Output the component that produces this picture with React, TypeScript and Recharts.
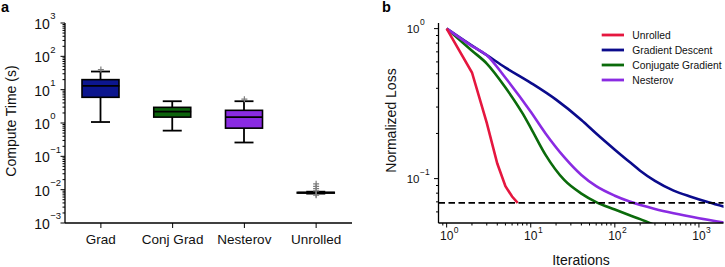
import React from 'react';
import {
  ComposedChart,
  Bar,
  Scatter,
  Line,
  XAxis,
  YAxis,
  ReferenceLine,
  Legend,
  Label,
} from 'recharts';

const FONT = '"Liberation Sans", Arial, Helvetica, sans-serif';
const INK = '#000000';
const TEXT = '#111111';

// ---------- panel a: compute time per solver (seconds) ----------
const methods = ['Grad', 'Conj Grad', 'Nesterov', 'Unrolled'];
const boxFills = ['#0c168e', '#0c640c', '#8a2be2', '#000000'];
const whiskerLow = [1.07, 0.59, 0.26, 0.0076];
const quartileLow = [5.9, 1.5, 0.7, 0.0079];
const medians = [13, 2.2, 1.5, 0.0081];
const quartileHigh = [20, 2.95, 2.4, 0.0083];
const whiskerHigh = [35, 4.5, 4.5, 0.0087];
const outliers = [[40], [], [5.2], [0.015, 0.0125, 0.0108, 0.0092, 0.0071, 0.0068]];
const timeDomain = [0.001, 1000];
const timeDecades = [0.001, 0.01, 0.1, 1, 10, 100, 1000];

// ---------- panel b: normalized loss vs iterations ----------
const unrolledIters = [1, 2, 3, 4, 5, 6, 7];
const unrolledLoss = [1, 0.51, 0.235, 0.126, 0.089, 0.076, 0.069];
const gdIters = [1, 2, 3, 5, 10, 20, 40, 60, 100, 150, 200, 300, 500, 800, 1300, 2000];
const gdLoss = [1, 0.77, 0.665, 0.55, 0.435, 0.336, 0.246, 0.2, 0.156, 0.129, 0.113, 0.0966, 0.0832, 0.0757, 0.0695, 0.0649];
const cgIters = [1, 2, 3, 5, 8, 10, 15, 25, 40, 60, 100, 150, 200, 300];
const cgLoss = [1, 0.712, 0.585, 0.405, 0.272, 0.218, 0.144, 0.098, 0.0795, 0.0698, 0.0622, 0.057, 0.0537, 0.049];
const nesterovIters = [1, 2, 3, 5, 10, 15, 25, 40, 60, 100, 150, 300, 500, 1000, 2000];
const nesterovLoss = [1, 0.765, 0.665, 0.47, 0.279, 0.2, 0.139, 0.1057, 0.089, 0.0769, 0.0703, 0.0628, 0.0588, 0.0545, 0.051];
const targetLoss = 0.069;
const iterDomain = [0.8, 1960];
const lossDomain = [0.0506, 1.09];
const iterDecades = [1, 10, 100, 1000];
const lossDecades = [0.1, 1];

const RED = '#e5173f';
const NAVY = '#0b0b8c';
const GREEN = '#0b6b0b';
const PURPLE = '#8a2be2';

const minorSteps = [2, 3, 4, 5, 6, 7, 8, 9];

// log-axis ticks: each decade plus its 2..9 minor marks, kept inside [lo, hi]
const logTicks = (decades: number[], lo: number, hi: number) => {
  const out: number[] = [];
  const first = decades[0] / 10;
  [first, ...decades].forEach((d) => {
    out.push(d);
    minorSteps.forEach((m) => out.push(m * d));
  });
  return out.filter((v) => v >= lo - 1e-12 && v <= hi + 1e-12).sort((a, b) => a - b);
};

const timeTicks = logTicks(timeDecades, timeDomain[0], timeDomain[1]);
const iterTicks = logTicks(iterDecades, 0.85, iterDomain[1]);
const lossTicks = logTicks(lossDecades, lossDomain[0], lossDomain[1]);

const isDecade = (v: number) => Math.abs(Math.log10(v) - Math.round(Math.log10(v))) < 1e-9;
const expText = (v: number) => {
  const e = Math.round(Math.log10(v));
  return e < 0 ? `\u2212${-e}` : `${e}`;
};

const outlierSlots = Array.from({ length: Math.max(...outliers.map((o) => o.length)) }, (_, k) => k);

const timeRows = methods.map((name, i) => {
  const row: Record<string, unknown> = {
    name,
    fill: boxFills[i],
    whisker: [whiskerLow[i], whiskerHigh[i]],
    box: [quartileLow[i], quartileHigh[i]],
    median: medians[i],
  };
  outlierSlots.forEach((k) => {
    row[`out${k}`] = outliers[i][k] ?? null;
  });
  return row;
});

const toPoints = (xs: number[], ys: number[]) => xs.map((x, i) => ({ x, y: ys[i] }));

const lossSeries = [
  { name: 'Unrolled', color: RED, data: toPoints(unrolledIters, unrolledLoss), curve: 'linear' },
  { name: 'Gradient Descent', color: NAVY, data: toPoints(gdIters, gdLoss), curve: 'monotone' },
  { name: 'Conjugate Gradient', color: GREEN, data: toPoints(cgIters, cgLoss), curve: 'monotone' },
  { name: 'Nesterov', color: PURPLE, data: toPoints(nesterovIters, nesterovLoss), curve: 'monotone' },
];
const drawOrder = ['Gradient Descent', 'Conjugate Gradient', 'Nesterov', 'Unrolled'];

// ---------- tick renderers ----------
type TickProps = { x?: number; y?: number; payload?: { value: number | string } };

function TimeTick({ x = 0, y = 0, payload }: TickProps) {
  const v = Number(payload?.value);
  const major = isDecade(v);
  return (
    <g>
      <line x1={x - (major ? 4.5 : 2.5)} y1={y} x2={x} y2={y} stroke={INK} strokeWidth={1} />
      {major && (
        <>
          <text x={x - 30.7} y={y + 6} fontSize={14} fontFamily={FONT} fill={TEXT}>10</text>
          <text x={x - 14.7} y={y - 3.6} fontSize={9.5} fontFamily={FONT} fill={TEXT}>{expText(v)}</text>
        </>
      )}
    </g>
  );
}

function MethodTick({ x = 0, y = 0, payload }: TickProps) {
  return (
    <g>
      <line x1={x} y1={y} x2={x} y2={y + 5} stroke={INK} strokeWidth={1} />
      <text x={x} y={y + 21} textAnchor="middle" fontSize={13.5} fontFamily={FONT} fill={TEXT}>
        {String(payload?.value)}
      </text>
    </g>
  );
}

function IterTick({ x = 0, y = 0, payload }: TickProps) {
  const v = Number(payload?.value);
  const major = isDecade(v);
  return (
    <g>
      <line x1={x} y1={y} x2={x} y2={y + (major ? 4.5 : 2.5)} stroke={INK} strokeWidth={1} />
      {major && (
        <>
          <text x={x} y={y + 17} textAnchor="middle" fontSize={12} fontFamily={FONT} fill={TEXT}>10</text>
          <text x={x + 7.2} y={y + 9.5} fontSize={8.5} fontFamily={FONT} fill={TEXT}>{expText(v)}</text>
        </>
      )}
    </g>
  );
}

function LossTick({ x = 0, y = 0, payload }: TickProps) {
  const v = Number(payload?.value);
  const major = isDecade(v);
  return (
    <g>
      <line x1={x - (major ? 4.5 : 2.5)} y1={y} x2={x} y2={y} stroke={INK} strokeWidth={1} />
      {major && (
        <>
          <text x={x - 31.8} y={y + 4.1} fontSize={11.5} fontFamily={FONT} fill={TEXT}>10</text>
          <text x={x - 18.5} y={y - 4} fontSize={8.5} fontFamily={FONT} fill={TEXT}>{expText(v)}</text>
        </>
      )}
    </g>
  );
}

// ---------- box plot pieces ----------
type ShapeProps = { x?: number; y?: number; width?: number; height?: number; payload?: Record<string, unknown> };

function WhiskerShape({ x = 0, y = 0, width = 0, height = 0 }: ShapeProps) {
  const top = Math.min(y, y + height);
  const bottom = Math.max(y, y + height);
  const cx = x + width / 2;
  return (
    <g stroke={INK} strokeWidth={1.8}>
      <line x1={cx} y1={top} x2={cx} y2={bottom} />
      <line x1={x} y1={top} x2={x + width} y2={top} />
      <line x1={x} y1={bottom} x2={x + width} y2={bottom} />
    </g>
  );
}

function BoxShape({ x = 0, y = 0, width = 0, height = 0, payload }: ShapeProps) {
  const top = Math.min(y, y + height);
  const h = Math.abs(height);
  return <rect x={x} y={top} width={width} height={h} fill={String(payload?.fill)} stroke={INK} strokeWidth={1.6} />;
}

const BOX_WIDTH = 37;

function MedianShape(props: { cx?: number | null; cy?: number | null }) {
  const { cx, cy } = props;
  if (cx == null || cy == null || !Number.isFinite(cy)) return <g />;
  return <line x1={cx - BOX_WIDTH / 2} y1={cy} x2={cx + BOX_WIDTH / 2} y2={cy} stroke={INK} strokeWidth={1.8} />;
}

function OutlierShape(props: { cx?: number | null; cy?: number | null }) {
  const { cx, cy } = props;
  if (cx == null || cy == null || !Number.isFinite(cy)) return <g />;
  return (
    <g stroke="#7d7d7d" strokeWidth={1.2}>
      <line x1={cx - 3} y1={cy} x2={cx + 3} y2={cy} />
      <line x1={cx} y1={cy - 3} x2={cx} y2={cy + 3} />
    </g>
  );
}

// ---------- legend ----------
function LossLegend() {
  return (
    <svg width={125} height={62} style={{ display: 'block', overflow: 'visible' }}>
      {lossSeries.map((s, i) => {
        const cy = 8 + i * 15;
        return (
          <g key={s.name}>
            <line x1={1.7} y1={cy} x2={24} y2={cy} stroke={s.color} strokeWidth={2.8} />
            <text x={32.3} y={cy + 3.7} fontSize={10.3} fontFamily={FONT} fill={TEXT}>{s.name}</text>
          </g>
        );
      })}
    </svg>
  );
}

type VB = { x: number; y: number; width: number; height: number };

function TimePanel() {
  const frame = { stroke: INK, strokeWidth: 1.3 };
  return (
    <ComposedChart width={360} height={267} data={timeRows} margin={{ top: 23, right: 8, bottom: 0, left: 0 }}>
      <XAxis
        xAxisId="box"
        dataKey="name"
        type="category"
        interval={0}
        tickSize={0}
        tickMargin={0}
        tickLine={false}
        height={44}
        axisLine={frame}
        tick={(p: TickProps) => <MethodTick {...p} />}
      />
      <XAxis xAxisId="whisk" dataKey="name" type="category" hide />
      <XAxis
        xAxisId="frameTop"
        dataKey="name"
        type="category"
        orientation="top"
        height={0}
        tick={false}
        tickLine={false}
        axisLine={frame}
      />
      <YAxis
        yAxisId="t"
        type="number"
        scale="log"
        domain={timeDomain}
        allowDataOverflow
        ticks={timeTicks}
        interval={0}
        tickSize={0}
        tickMargin={0}
        tickLine={false}
        width={65}
        axisLine={frame}
        tick={(p: TickProps) => <TimeTick {...p} />}
      >
        <Label
          content={(p: { viewBox?: VB }) => {
            const vb = p.viewBox ?? { x: 0, y: 23, width: 65, height: 200 };
            return (
              <text
                transform={`translate(${vb.x + 11}, ${vb.y + vb.height / 2 - 2}) rotate(-90)`}
                textAnchor="middle"
                dominantBaseline="central"
                fontSize={14}
                fontFamily={FONT}
                fill={TEXT}
              >
                Compute Time (s)
              </text>
            );
          }}
        />
      </YAxis>
      <YAxis
        yAxisId="frameRight"
        orientation="right"
        type="number"
        domain={[0, 1]}
        width={0}
        tick={false}
        tickLine={false}
        axisLine={frame}
      />
      <Bar xAxisId="whisk" yAxisId="t" dataKey="whisker" barSize={19} shape={(p: ShapeProps) => <WhiskerShape {...p} />} isAnimationActive={false} />
      <Bar xAxisId="box" yAxisId="t" dataKey="box" barSize={BOX_WIDTH} shape={(p: ShapeProps) => <BoxShape {...p} />} isAnimationActive={false} />
      <Scatter xAxisId="box" yAxisId="t" dataKey="median" shape={(p: { cx?: number; cy?: number }) => <MedianShape {...p} />} isAnimationActive={false} />
      {outlierSlots.map((k) => (
        <Scatter
          key={k}
          xAxisId="box"
          yAxisId="t"
          dataKey={`out${k}`}
          shape={(p: { cx?: number; cy?: number }) => <OutlierShape {...p} />}
          isAnimationActive={false}
        />
      ))}
    </ComposedChart>
  );
}

function LossPanel() {
  const frame = { stroke: INK, strokeWidth: 1.3 };
  const ordered = drawOrder.map((n) => lossSeries.find((s) => s.name === n)!);
  return (
    <ComposedChart width={365} height={267} margin={{ top: 23, right: 1.5, bottom: 0, left: 0 }}>
      <XAxis
        dataKey="x"
        type="number"
        scale="log"
        domain={iterDomain}
        allowDataOverflow
        ticks={iterTicks}
        interval={0}
        tickSize={0}
        tickMargin={0}
        tickLine={false}
        height={44}
        axisLine={frame}
        tick={(p: TickProps) => <IterTick {...p} />}
      >
        <Label
          content={(p: { viewBox?: VB }) => {
            const vb = p.viewBox ?? { x: 78.5, y: 223, width: 285, height: 44 };
            return (
              <text x={vb.x + vb.width / 2} y={vb.y + 42} textAnchor="middle" fontSize={14} fontFamily={FONT} fill={TEXT}>
                Iterations
              </text>
            );
          }}
        />
      </XAxis>
      <XAxis
        xAxisId="frameTop"
        orientation="top"
        type="number"
        domain={[0, 1]}
        height={0}
        tick={false}
        tickLine={false}
        axisLine={frame}
      />
      <YAxis
        type="number"
        scale="log"
        domain={lossDomain}
        allowDataOverflow
        ticks={lossTicks}
        interval={0}
        tickSize={0}
        tickMargin={0}
        tickLine={false}
        width={78.5}
        axisLine={frame}
        tick={(p: TickProps) => <LossTick {...p} />}
      >
        <Label
          content={(p: { viewBox?: VB }) => {
            const vb = p.viewBox ?? { x: 0, y: 23, width: 78.5, height: 200 };
            return (
              <text
                transform={`translate(${vb.x + 31}, ${vb.y + vb.height / 2 - 2.5}) rotate(-90)`}
                textAnchor="middle"
                dominantBaseline="central"
                fontSize={14}
                fontFamily={FONT}
                fill={TEXT}
              >
                Normalized Loss
              </text>
            );
          }}
        />
      </YAxis>
      <YAxis
        yAxisId="frameRight"
        orientation="right"
        type="number"
        domain={[0, 1]}
        width={0}
        tick={false}
        tickLine={false}
        axisLine={frame}
      />
      {ordered.map((s) => (
        <Line
          key={s.name}
          name={s.name}
          data={s.data}
          dataKey="y"
          type={s.curve as 'linear' | 'monotone'}
          stroke={s.color}
          strokeWidth={2.6}
          dot={false}
          activeDot={false}
          isAnimationActive={false}
        />
      ))}
      <ReferenceLine y={targetLoss} stroke={INK} strokeWidth={1.8} strokeDasharray="6.5 3.5" />
      <Legend
        layout="vertical"
        align="center"
        verticalAlign="middle"
        wrapperStyle={{ left: 240, top: 27, width: 125, height: 62 }}
        content={() => <LossLegend />}
      />
    </ComposedChart>
  );
}

// panel letters drawn in svg so their glyph boxes sit fully inside the page
function PanelLetter({ left, text }: { left: number; text: string }) {
  return (
    <svg width={16} height={16} style={{ position: 'absolute', left, top: 0, overflow: 'visible' }}>
      <text x={0} y={12.2} fontSize={14.5} fontWeight="bold" fontFamily={FONT} fill="#000">
        {text}
      </text>
    </svg>
  );
}

export default function App() {
  return (
    <div style={{ position: 'absolute', left: 0, top: 0, width: 725, height: 267, background: '#fff', overflow: 'hidden' }}>
      <div style={{ position: 'absolute', left: 0, top: 0, width: 360, height: 267 }}>
        <TimePanel />
      </div>
      <div style={{ position: 'absolute', left: 360, top: 0, width: 365, height: 267 }}>
        <LossPanel />
      </div>
      <PanelLetter left={1} text="a" />
      <PanelLetter left={381.5} text="b" />
    </div>
  );
}
